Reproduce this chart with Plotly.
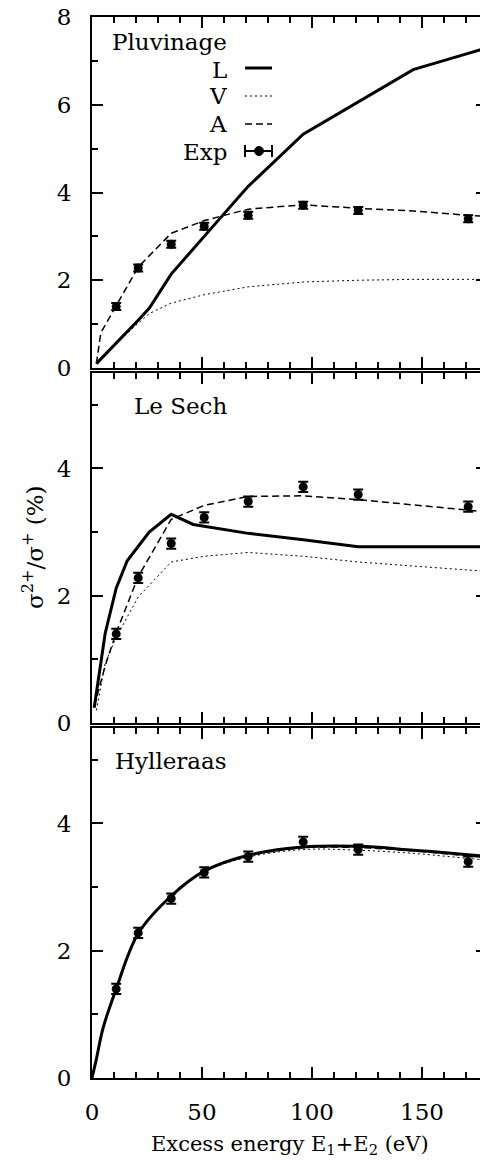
import plotly.graph_objects as go

# ---------------- data ----------------
exp_x = [11, 21, 36, 51, 71, 96, 121, 171]
exp_y = [1.40, 2.28, 2.82, 3.23, 3.48, 3.71, 3.59, 3.40]
exp_err = [0.08, 0.08, 0.08, 0.08, 0.08, 0.08, 0.08, 0.08]

# Pluvinage
plu_x = [2, 11, 21, 26, 36, 51, 71, 96, 121, 146, 171, 200]
plu_L = [0.10, 0.56, 1.09, 1.36, 2.14, 3.00, 4.14, 5.33, 6.06, 6.80, 7.17, 7.60]
plu_V = [0.10, 0.56, 1.02, 1.24, 1.48, 1.67, 1.85, 1.96, 2.00, 2.02, 2.02, 2.02]
plu_A_x = [2, 4, 11, 21, 36, 51, 71, 96, 121, 146, 171, 200]
plu_A = [0.10, 0.80, 1.42, 2.30, 3.07, 3.36, 3.62, 3.72, 3.64, 3.58, 3.48, 3.40]

# Le Sech
les_L_x = [1, 4, 6, 11, 16, 26, 36, 46, 71, 96, 121, 200]
les_L = [0.24, 0.96, 1.41, 2.12, 2.55, 3.00, 3.28, 3.12, 2.98, 2.88, 2.77, 2.77]
les_V_x = [2, 6, 11, 21, 36, 51, 71, 96, 121, 171, 200]
les_V = [0.20, 0.94, 1.35, 1.98, 2.53, 2.62, 2.68, 2.62, 2.53, 2.40, 2.33]
les_A_x = [1, 6, 11, 21, 36, 51, 71, 96, 121, 171, 200]
les_A = [0.26, 0.90, 1.42, 2.30, 3.20, 3.42, 3.56, 3.57, 3.51, 3.34, 3.25]

# Hylleraas
hyl_x = [0, 2, 5, 11, 21, 36, 51, 71, 96, 121, 146, 171, 200]
hyl_L = [0, 0.30, 0.78, 1.40, 2.27, 2.86, 3.25, 3.50, 3.63, 3.64, 3.58, 3.51, 3.42]
hyl_V = [0, 0.30, 0.78, 1.40, 2.27, 2.85, 3.24, 3.47, 3.59, 3.58, 3.53, 3.45, 3.36]
hyl_A = [0, 0.30, 0.78, 1.40, 2.28, 2.86, 3.25, 3.49, 3.62, 3.62, 3.57, 3.49, 3.40]

panel_names = ["Pluvinage", "Le Sech", "Hylleraas"]
legend_names = ["L", "V", "A", "Exp"]
x_ticks = [0, 50, 100, 150]

# ---------------- style ----------------
FONT = "DejaVu Serif"
FS = 23
BLACK = "#000"
L_STYLE = dict(color=BLACK, width=3)
V_STYLE = dict(color=BLACK, width=1, dash="2px,3px")
A_STYLE = dict(color=BLACK, width=1.5, dash="7px,4px")

W, H = 480, 1163
ML, MR, MT, MB = 92, 0, 17, 85
PW = W - ML - MR
PH = H - MT - MB


def px(X):
    return (X - ML) / PW


def py(Y):
    return (H - MB - Y) / PH


fig = go.Figure()

panels = [
    ("x", "y", plu_x, plu_L, plu_x, plu_V, plu_A_x, plu_A),
    ("x2", "y2", les_L_x, les_L, les_V_x, les_V, les_A_x, les_A),
    ("x3", "y3", hyl_x, hyl_L, hyl_x, hyl_V, hyl_x, hyl_A),
]
spline = [False, False, True]
for i, (xa, ya, lx, ly, vx, vy, ax, ay) in enumerate(panels):
    shape = "spline" if spline[i] else "linear"
    fig.add_trace(go.Scatter(x=vx, y=vy, mode="lines", line=dict(V_STYLE, shape=shape),
                             xaxis=xa, yaxis=ya, showlegend=False))
    fig.add_trace(go.Scatter(x=ax, y=ay, mode="lines", line=dict(A_STYLE, shape=shape),
                             xaxis=xa, yaxis=ya, showlegend=False))
    fig.add_trace(go.Scatter(x=lx, y=ly, mode="lines", line=dict(L_STYLE, shape=shape),
                             xaxis=xa, yaxis=ya, showlegend=False))
    fig.add_trace(go.Scatter(x=exp_x, y=exp_y, mode="markers",
                             marker=dict(color=BLACK, size=9, symbol="circle"),
                             error_y=dict(type="data", array=exp_err, color=BLACK,
                                          thickness=2, width=5),
                             xaxis=xa, yaxis=ya, showlegend=False, cliponaxis=False))

for ya, xa in [("y4", "x"), ("y5", "x2"), ("y6", "x3")]:
    fig.add_trace(go.Scatter(x=[], y=[], xaxis=xa, yaxis=ya, showlegend=False,
                             hoverinfo="skip"))

XR = [0, PW / 2.2]
xcommon = dict(range=XR, showline=True, linecolor=BLACK, linewidth=2, mirror="ticks",
               ticks="inside", ticklen=11, tickwidth=2, tickcolor=BLACK,
               tickvals=x_ticks, showgrid=False, zeroline=False,
               minor=dict(dtick=10, ticks="inside", ticklen=6, tickwidth=2,
                          tickcolor=BLACK, showgrid=False),
               tickfont=dict(family=FONT, size=FS, color=BLACK))
ycommon = dict(showline=True, linecolor=BLACK, linewidth=2, mirror=False,
               ticks="inside", ticklen=11, tickwidth=2, tickcolor=BLACK,
               dtick=2, tick0=0, showgrid=False, zeroline=False,
               minor=dict(dtick=1, ticks="inside", ticklen=6, tickwidth=2,
                          tickcolor=BLACK, showgrid=False),
               tickfont=dict(family=FONT, size=FS, color=BLACK),
               ticklabelstandoff=14)
yright = dict(side="right", showline=False, ticks="inside", ticklen=4, tickwidth=2,
              tickcolor=BLACK, dtick=2, tick0=0, showticklabels=False,
              showgrid=False, zeroline=False)

dom_top = [py(368), 1.0]
dom_mid = [py(723), py(373)]
dom_bot = [0.0, py(728)]

fig.update_layout(
    width=W, height=H,
    margin=dict(l=ML, r=MR, t=MT, b=MB),
    paper_bgcolor="white", plot_bgcolor="white",
    font=dict(family=FONT, size=FS, color=BLACK),
    xaxis=dict(xcommon, anchor="y", showticklabels=False),
    xaxis2=dict(xcommon, anchor="y2", showticklabels=False),
    xaxis3=dict(xcommon, anchor="y3", showticklabels=True, ticklabelstandoff=12),
    yaxis=dict(ycommon, domain=dom_top, anchor="x", range=[0, 8]),
    yaxis2=dict(ycommon, domain=dom_mid, anchor="x2", range=[0, 5.5]),
    yaxis3=dict(ycommon, domain=dom_bot, anchor="x3", range=[0, 5.5]),
    yaxis4=dict(yright, overlaying="y", anchor="x", range=[0, 8]),
    yaxis5=dict(yright, overlaying="y2", anchor="x2", range=[0, 5.5]),
    yaxis6=dict(yright, overlaying="y3", anchor="x3", range=[0, 5.5]),
    showlegend=False,
)

ann = []
for name, Y in zip(panel_names, [42, 406, 761]):
    ann.append(dict(text=name, xref="paper", yref="paper", x=px(229), y=py(Y),
                    xanchor="right", yanchor="middle", showarrow=False,
                    font=dict(family=FONT, size=FS, color=BLACK)))
leg_y = [70, 96, 124, 152]
for name, Y in zip(legend_names, leg_y):
    ann.append(dict(text=name, xref="paper", yref="paper", x=px(229), y=py(Y),
                    xanchor="right", yanchor="middle", showarrow=False,
                    font=dict(family=FONT, size=FS, color=BLACK)))
ann.append(dict(text="Excess energy E<sub>1</sub>+E<sub>2</sub> (eV)", xref="paper",
                yref="paper", x=px(290), y=py(1145), xanchor="center", yanchor="middle",
                showarrow=False, font=dict(family=FONT, size=FS - 2, color=BLACK)))
ann.append(dict(text="σ<sup>2+</sup>/σ<sup>+</sup> (%)", xref="paper", yref="paper",
                x=px(33), y=py(547), xanchor="center", yanchor="middle", textangle=-90,
                showarrow=False, font=dict(family=FONT, size=FS, color=BLACK)))
fig.update_layout(annotations=ann)

shapes = []
x0, x1 = px(245), px(272)
shapes.append(dict(type="line", xref="paper", yref="paper", x0=x0, x1=x1,
                   y0=py(68), y1=py(68), line=dict(color=BLACK, width=3)))
shapes.append(dict(type="line", xref="paper", yref="paper", x0=x0, x1=x1,
                   y0=py(96), y1=py(96), line=dict(color=BLACK, width=1, dash="2px,3px")))
shapes.append(dict(type="line", xref="paper", yref="paper", x0=x0, x1=x1,
                   y0=py(124), y1=py(124), line=dict(color=BLACK, width=1.5, dash="7px,4px")))
shapes.append(dict(type="line", xref="paper", yref="paper", x0=x0, x1=x1,
                   y0=py(151), y1=py(151), line=dict(color=BLACK, width=2)))
for xc in (x0, x1):
    shapes.append(dict(type="line", xref="paper", yref="paper", x0=xc, x1=xc,
                       y0=py(145), y1=py(157), line=dict(color=BLACK, width=2)))
shapes.append(dict(type="circle", xref="paper", yref="paper", x0=px(254.5), x1=px(263.5),
                   y0=py(155.5), y1=py(146.5), fillcolor=BLACK, line=dict(color=BLACK, width=1)))
fig.update_layout(shapes=shapes)

fig.write_html("out.html")
